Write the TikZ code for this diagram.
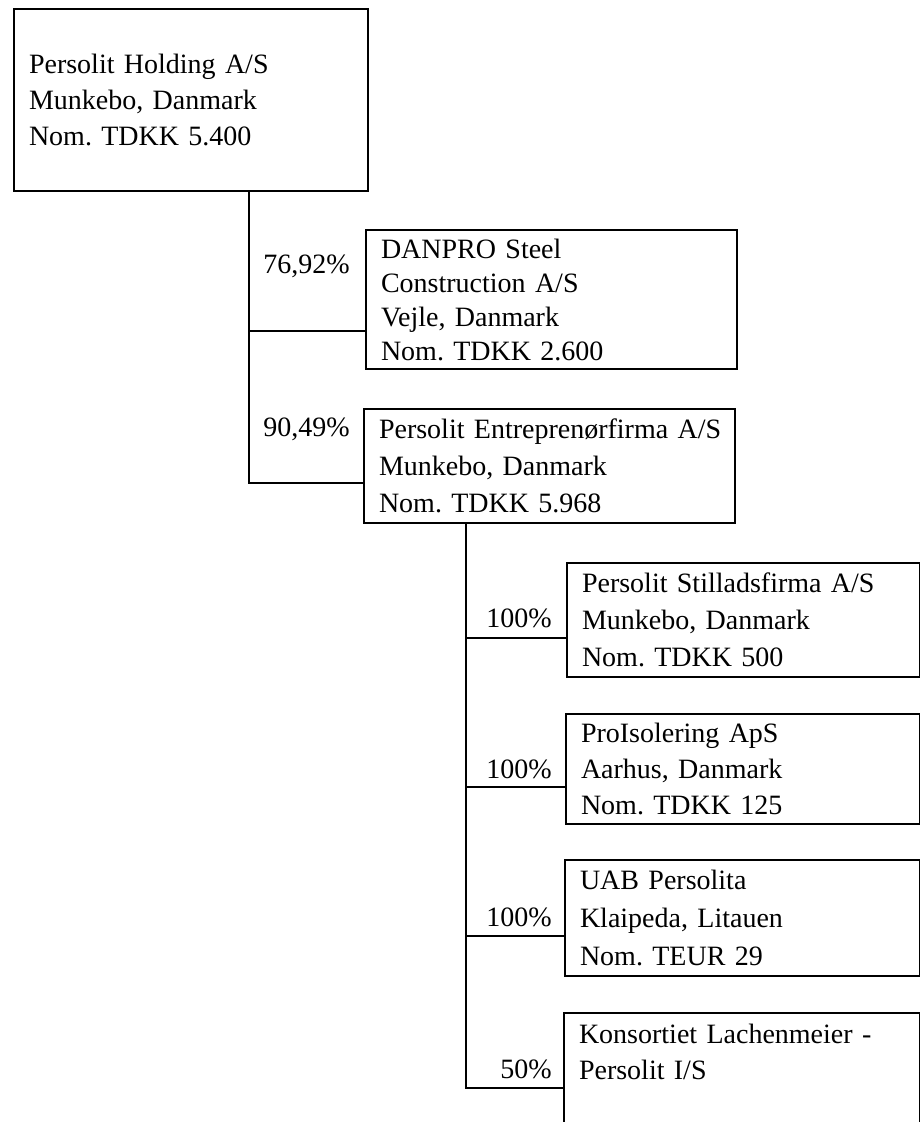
\documentclass[tikz,border=0pt]{standalone}
\usepackage{fontspec}
\setmainfont{Liberation Serif}
\usepackage{tikz}
\frenchspacing
\tikzset{
  firm/.style={draw, line width=2pt, anchor=north west, align=left,
    inner xsep=15pt, inner ysep=0pt, font=\fontsize{28}{36}\selectfont},
  share/.style={anchor=base east, inner sep=0pt, font=\fontsize{28}{36}\selectfont},
  link/.style={line width=2pt}
}

\begin{document}
\begin{tikzpicture}[x=1pt, y=-1pt]
  \useasboundingbox (0,0) rectangle (920,1122);
  \clip (0,0) rectangle (920,1122);
  \node[firm, text width=324, minimum width=354, minimum height=182] (holding) at (13,8)
    {Persolit Holding A/S\\Munkebo, Danmark\\Nom. TDKK 5.400};
  \node[firm, text width=341, minimum width=371, minimum height=139,
    font=\fontsize{28}{34}\selectfont] (danpro) at (365,229)
    {DANPRO Steel\\Construction A/S\\Vejle, Danmark\\Nom. TDKK 2.600};
  \node[firm, text width=341, minimum width=371, minimum height=114,
    font=\fontsize{28}{37}\selectfont] (entrep) at (363,408)
    {\mbox{Persolit Entreprenørfirma A/S}\\Munkebo, Danmark\\Nom. TDKK 5.968};
  \node[firm, text width=323, minimum width=353, minimum height=114,
    font=\fontsize{28}{37}\selectfont] (stillads) at (566,562)
    {Persolit Stilladsfirma A/S\\Munkebo, Danmark\\Nom. TDKK 500};
  \node[firm, text width=324, minimum width=354, minimum height=110] (proiso) at (565,713)
    {ProIsolering ApS\\Aarhus, Danmark\\Nom. TDKK 125};
  \node[firm, text width=325, minimum width=355, minimum height=116,
    font=\fontsize{28}{38}\selectfont] (uab) at (564,859)
    {UAB Persolita\\Klaipeda, Litauen\\Nom. TEUR 29};
  \node[firm, text width=326, minimum width=356, minimum height=114] (konsort) at (563,1012)
    {Konsortiet Lachenmeier -\\Persolit I/S\\\mbox{}};

  % ejerandele
  \node[share] (p1) at ([xshift=-15pt,yshift=26.5pt]danpro.west) {76,92\%};
  \node[share] (p2) at ([xshift=-13pt,yshift=30pt]entrep.west) {90,49\%};
  \node[share] (p3) at ([xshift=-14pt,yshift=-7pt]stillads.west) {100\%};
  \node[share] (p4) at ([xshift=-13pt,yshift=-9pt]proiso.west) {100\%};
  \node[share] (p5) at ([xshift=-12pt,yshift=-8pt]uab.west) {100\%};
  \node[share] (p6) at ([xshift=-11pt,yshift=-8pt]konsort.west) {50\%};

  % forbindelser
  \draw[link] ([xshift=58pt]holding.south) |- ([yshift=-31.5pt]danpro.west);
  \draw[link] ([xshift=58pt]holding.south) |- ([yshift=-17pt]entrep.west);
  \draw[link] ([xshift=-83.5pt]entrep.south) |- ([yshift=-18pt]stillads.west);
  \draw[link] ([xshift=-83.5pt]entrep.south) |- ([yshift=-18pt]proiso.west);
  \draw[link] ([xshift=-83.5pt]entrep.south) |- ([yshift=-18pt]uab.west);
  \draw[link] ([xshift=-83.5pt]entrep.south) |- ([yshift=-18pt]konsort.west);
\end{tikzpicture}
\end{document}
